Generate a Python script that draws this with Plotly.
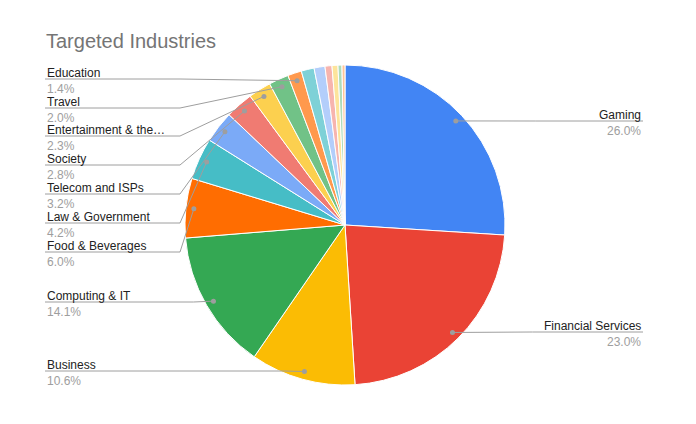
import math
import plotly.graph_objects as go

labels = ["Gaming", "Financial Services", "Business", "Computing & IT", "Food & Beverages",
          "Law & Government", "Telecom and ISPs", "Society", "Entertainment & the…", "Travel",
          "Education", "Retail", "Energy", "Media", "Manufacturing", "Transportation", "Other"]
values = [26.0, 23.0, 10.6, 14.1, 6.0, 4.2, 3.2, 2.8, 2.3, 2.0, 1.4, 1.3, 1.1, 0.7, 0.6, 0.4, 0.3]
colors = ["#4285F4", "#EA4335", "#FBBC04", "#34A853", "#FF6D01", "#46BDC6", "#7BAAF7", "#F07B72",
          "#FCD04F", "#71C287", "#FF994D", "#7ED1D7", "#B3CEFB", "#F7B4AE", "#FDE49B", "#AEDCBA", "#FFC599"]
label_pos = {"Gaming": ("r", 106), "Financial Services": ("r", 317), "Business": ("l", 356),
             "Computing & IT": ("l", 287), "Food & Beverages": ("l", 237), "Law & Government": ("l", 208),
             "Telecom and ISPs": ("l", 179), "Society": ("l", 150), "Entertainment & the…": ("l", 121),
             "Travel": ("l", 93), "Education": ("l", 64)}

OFF = 8  # page body margin
W, H = 696 - 2 * OFF, 424 - 2 * OFF
cx, cy, r = 345, 225, 160
px = lambda x: (x - OFF) / W
py = lambda y: 1 - (y - OFF) / H

fig = go.Figure(go.Pie(labels=labels, values=values, sort=False, direction="clockwise", rotation=0,
                       marker=dict(colors=colors, line=dict(color="white", width=1)),
                       textinfo="none", hoverinfo="label+percent",
                       domain=dict(x=[px(cx - r), px(cx + r)], y=[py(cy + r), py(cy - r)])))

total = sum(values)
shapes, annos = [], []
cum = 0
for lab, v in zip(labels, values):
    mid = (cum + v / 2) / total * 2 * math.pi
    cum += v
    if lab not in label_pos:
        continue
    side, ty = label_pos[lab]
    dx, dy = cx + 0.95 * r * math.sin(mid), cy - 0.95 * r * math.cos(mid)
    ly = ty + 15
    if side == "l":
        x0, x1, xa, anchor = 45, 180, 45, "left"
        if lab in ("Computing & IT", "Business"):
            x1 = dx - 20
    else:
        x0, x1, xa, anchor = 643, dx + 80, 643, "right"
    shapes.append(dict(type="line", xref="paper", yref="paper", x0=px(x0), y0=py(ly), x1=px(x1), y1=py(ly),
                       line=dict(color="#9e9e9e", width=1)))
    shapes.append(dict(type="line", xref="paper", yref="paper", x0=px(x1), y0=py(ly), x1=px(dx), y1=py(dy),
                       line=dict(color="#9e9e9e", width=1)))
    shapes.append(dict(type="circle", xref="paper", yref="paper", x0=px(dx - 2.5), x1=px(dx + 2.5),
                       y0=py(dy + 2.5), y1=py(dy - 2.5), fillcolor="#9e9e9e", line=dict(width=0)))
    annos.append(dict(text=lab, x=px(xa), y=py(ty), xref="paper", yref="paper", xanchor=anchor, yanchor="top",
                      showarrow=False, font=dict(size=12, color="#222222")))
    annos.append(dict(text=f"{v:.1f}%", x=px(xa), y=py(ly + 1), xref="paper", yref="paper", xanchor=anchor,
                      yanchor="top", showarrow=False, font=dict(size=12, color="#9e9e9e")))

annos.append(dict(text="Targeted Industries", x=px(44), y=py(28), xref="paper", yref="paper", xanchor="left",
                  yanchor="top", showarrow=False, font=dict(size=20, color="#757575")))

fig.update_layout(width=W, height=H, margin=dict(l=0, r=0, t=0, b=0), showlegend=False,
                  paper_bgcolor="white", font=dict(family="Liberation Sans, Arial"), shapes=shapes,
                  annotations=annos)
fig.write_html("out.html")
